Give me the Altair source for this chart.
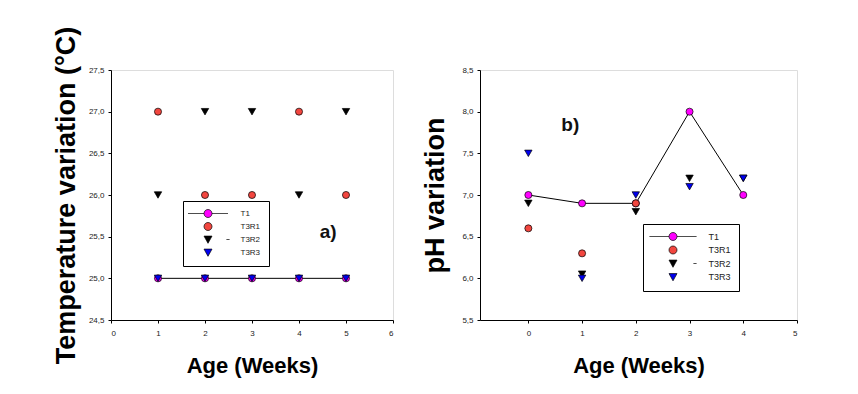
import altair as alt
import pandas as pd
import numpy as np

# ---------------- data ----------------
series_names = ["T1", "T3R1", "T3R2", "T3R3"]

# panel a) temperature
temp_weeks = [1, 2, 3, 4, 5]
temp_T1 = [25.0, 25.0, 25.0, 25.0, 25.0]
temp_T3R1 = [27.0, 26.0, 26.0, 27.0, 26.0]
temp_T3R2 = [26.0, 27.0, 27.0, 26.0, 27.0]
temp_T3R3 = [25.0, 25.0, 25.0, 25.0, 25.0]

# panel b) pH (None = no visible marker)
ph_weeks = [0, 1, 2, 3, 4]
ph_T1 = [7.0, 6.9, 6.9, 8.0, 7.0]
ph_T3R1 = [6.6, 6.3, 6.9, None, None]
ph_T3R2 = [6.9, 6.05, 6.8, 7.2, 7.2]
ph_T3R3 = [7.5, 6.0, 7.0, 7.1, 7.2]

temp_ticks_x = [0, 1, 2, 3, 4, 5, 6]
temp_ticks_y = [24.5, 25.0, 25.5, 26.0, 26.5, 27.0, 27.5]
ph_ticks_x = [0, 1, 2, 3, 4, 5]
ph_ticks_y = [5.5, 6.0, 6.5, 7.0, 7.5, 8.0, 8.5]

panel_labels = ["a)", "b)"]
label_pos_a = (4.62, 25.56)
label_pos_b = (0.78, 7.84)

# ---------------- styles ----------------
FONT = "Liberation Sans"
fills = {"T1": "#ff00ff", "T3R1": "#f2463f", "T3R2": "#000000", "T3R3": "#0000ee"}
shapes = {"T1": "circle", "T3R1": "circle", "T3R2": "triangle-down", "T3R3": "triangle-down"}
sizes = {"T1": 50, "T3R1": 50, "T3R2": 55, "T3R3": 55}

CIRCLE = "M1,0A1,1 0 1,1 -1,0A1,1 0 1,1 1,0Z"
TRI = "M-1,-0.85L1,-0.85L0,0.95Z"


def legend_paths(line_half, dash_pos):
    t1 = f"M{-line_half},0H-1M1,0H{line_half}" + CIRCLE
    t3r2 = TRI + f"M{dash_pos - 0.4},0H{dash_pos + 0.4}"
    return [t1, CIRCLE, t3r2, TRI]


def comma_fmt():
    return "replace(format(datum.value, '.1f'), '.', ',')"


def panel(weeks, vals, xdom, xticks, ydom, yticks, ytitle, lab, labpos,
          width, height, leg_x, leg_y, line_half, dash_pos, sym_off, lab_off,
          lab_size, row_pad, ytitle_pad):
    rows = []
    for s, v in zip(series_names, vals):
        for w, y in zip(weeks, v):
            rows.append({"series": s, "week": w,
                         "value": np.nan if y is None else y})
    df = pd.DataFrame(rows)

    xs = alt.Scale(domain=xdom, nice=False, zero=False)
    ys = alt.Scale(domain=ydom, nice=False, zero=False)
    xenc = alt.X("week:Q", scale=xs, axis=alt.Axis(
        values=xticks, title="Age (Weeks)", format="d", grid=False,
        tickSize=3, labelPadding=6, labelFontSize=8, labelColor="#222",
        labelFont=FONT, titleFont=FONT, titleFontSize=22, titleFontWeight="bold",
        titleColor="#000", titlePadding=18, domainColor="#000", tickColor="#000"))
    yenc = alt.Y("value:Q", scale=ys, axis=alt.Axis(
        values=yticks, title=ytitle, labelExpr=comma_fmt(), grid=False,
        tickSize=3, labelPadding=4, labelFontSize=8, labelColor="#222",
        labelFont=FONT, titleFont=FONT, titleFontSize=27, titleFontWeight="bold",
        titleColor="#000", titlePadding=ytitle_pad, domainColor="#000", tickColor="#000"))

    layers = []
    line = alt.Chart(df).transform_filter(alt.datum.series == "T1").mark_line(
        color="black", strokeWidth=1).encode(x=xenc, y=yenc)
    layers.append(line)
    for s in series_names:
        pts = alt.Chart(df).transform_filter(alt.datum.series == s).mark_point(
            filled=True, stroke="black", strokeWidth=0.7, opacity=1).encode(
            x="week:Q", y="value:Q",
            shape=alt.value(shapes[s]), fill=alt.value(fills[s]),
            size=alt.value(sizes[s]))
        layers.append(pts)

    # legend-only layer: rows with no position, so nothing is drawn
    leg_df = pd.DataFrame({"series": series_names,
                           "week": [np.nan] * 4, "value": [np.nan] * 4})
    paths = legend_paths(line_half, dash_pos)
    leg = alt.Chart(leg_df).mark_point(filled=True, strokeWidth=0.7,
                                       opacity=1).encode(
        x="week:Q", y="value:Q",
        shape=alt.Shape("series:N", scale=alt.Scale(domain=series_names, range=paths),
                        legend=alt.Legend(
                            title=None, orient="none", legendX=leg_x, legendY=leg_y,
                            strokeColor="black", fillColor="white", padding=8,
                            cornerRadius=0, symbolSize=64, symbolOffset=sym_off,
                            labelOffset=lab_off, labelFont=FONT, labelFontSize=lab_size,
                            labelColor="#222", rowPadding=row_pad,
                            symbolStrokeColor="black", symbolStrokeWidth=0.7)),
        fill=alt.Fill("series:N", scale=alt.Scale(domain=series_names,
                                                  range=[fills[s] for s in series_names]),
                      legend=None),
        stroke=alt.Stroke("series:N", scale=alt.Scale(domain=series_names,
                                                      range=["black"] * 4),
                          legend=None),
        size=alt.value(64))
    layers.append(leg)

    tdf = pd.DataFrame({"week": [labpos[0]], "value": [labpos[1]], "t": [lab]})
    txt = alt.Chart(tdf).mark_text(font=FONT, fontSize=19, fontWeight="bold",
                                   color="#111").encode(x="week:Q", y="value:Q", text="t:N")
    layers.append(txt)

    return alt.layer(*layers).properties(width=width, height=height).resolve_scale(
        shape="independent", fill="independent", stroke="independent")


left = panel(temp_weeks, [temp_T1, temp_T3R1, temp_T3R2, temp_T3R3],
             [0, 6], temp_ticks_x, [24.5, 27.5], temp_ticks_y,
             "Temperature variation   (°C)", panel_labels[0], label_pos_a,
             282, 250, 72, 131, 5, 5, 12.5, 28, 8, 2, 8)
right = panel(ph_weeks, [ph_T1, ph_T3R1, ph_T3R2, ph_T3R3],
              [-0.9, 5], ph_ticks_x, [5.5, 8.5], ph_ticks_y,
              "pH variation", panel_labels[1], label_pos_b,
              317, 250, 163, 154, 5.9, 5.5, 17.5, 31, 9, 2.5, 12)

chart = alt.hconcat(left, right, spacing=87, bounds="flush").resolve_scale(
    shape="independent", fill="independent", stroke="independent").resolve_legend(
    shape="independent", fill="independent", stroke="independent").properties(
    padding={"left": 43, "top": 10, "right": 5, "bottom": 5}).configure_view(
    stroke="black", strokeWidth=1).configure(background="white")

chart.save("out.html", embed_options={"renderer": "svg", "actions": False})
